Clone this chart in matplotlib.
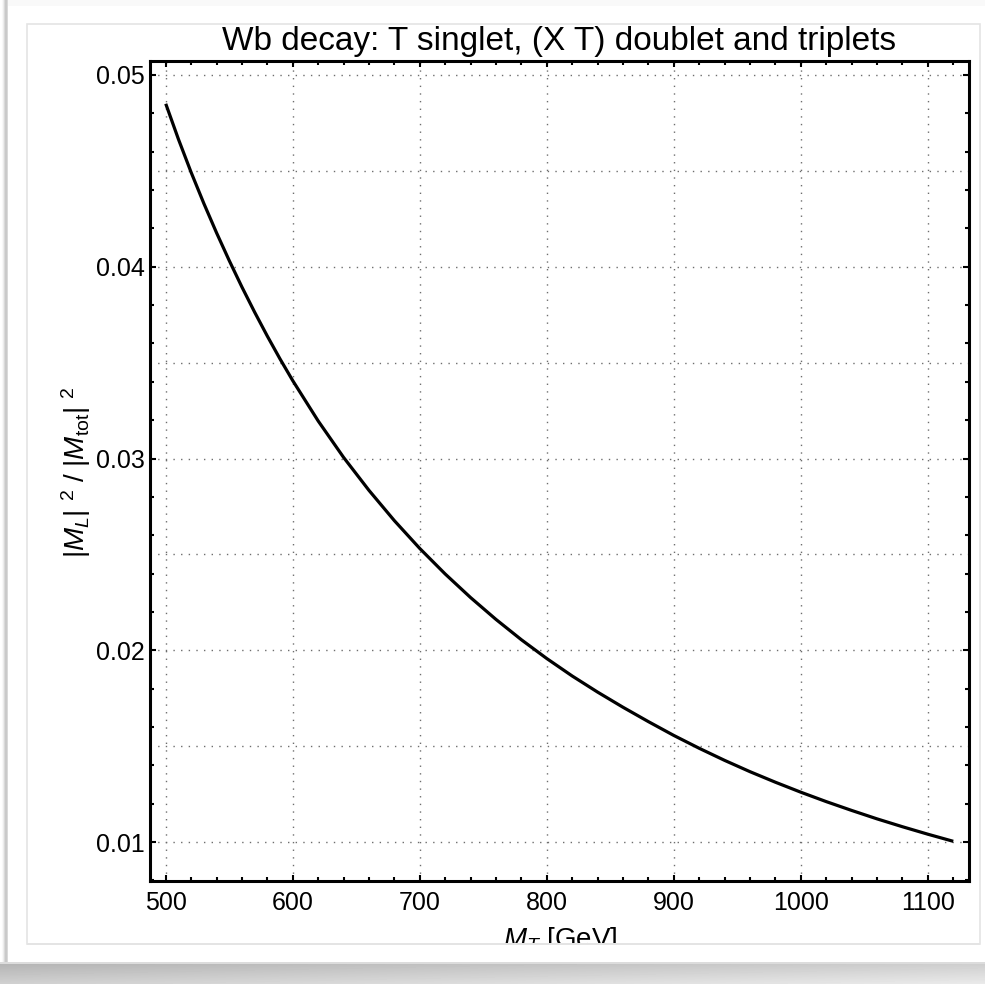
import numpy as np
import matplotlib
matplotlib.use("Agg")
import matplotlib.pyplot as plt
from matplotlib.patches import Rectangle
from matplotlib.ticker import MultipleLocator, FixedLocator

plt.rcParams['font.family'] = ['Liberation Sans', 'DejaVu Sans']
plt.rcParams['mathtext.fontset'] = 'custom'
plt.rcParams['mathtext.rm'] = 'Liberation Sans'
plt.rcParams['mathtext.it'] = 'Liberation Sans:italic'
plt.rcParams['mathtext.bf'] = 'Liberation Sans:bold'

# ---- data ----
mass_T = [500, 510, 520, 530, 540, 550, 560, 570, 580, 590, 600,
          620, 640, 660, 680, 700, 720, 740, 760, 780, 800,
          820, 840, 860, 880, 900, 920, 940, 960, 980, 1000,
          1020, 1040, 1060, 1080, 1100, 1120]
ratio = [0.04850, 0.04665, 0.04492, 0.04330, 0.04177, 0.04032, 0.03894,
         0.03763, 0.03638, 0.03519, 0.03406,
         0.03196, 0.03006, 0.02834, 0.02676, 0.02531, 0.02398, 0.02275,
         0.02161, 0.02055, 0.01957,
         0.01866, 0.01782, 0.01703, 0.01628, 0.01556, 0.01489, 0.01426,
         0.01367, 0.01312, 0.01260,
         0.01211, 0.01165, 0.01121, 0.01080, 0.01041, 0.01004]
x_ticks = [500, 600, 700, 800, 900, 1000, 1100]
y_ticks = [0.01, 0.02, 0.03, 0.04, 0.05]
y_ticklabels = ["0.01", "0.02", "0.03", "0.04", "0.05"]
y_grid = [0.01, 0.015, 0.02, 0.025, 0.03, 0.035, 0.04, 0.045, 0.05]
title = "Wb decay: T singlet, (X T) doublet and triplets"
xlabel = r"$M_T$ [GeV]"
ylabel = r"|$M_L$| $^2$ / |$M_{\rm tot}$| $^2$"

W, H = 985, 984
fig = plt.figure(figsize=(W / 100, H / 100), dpi=100)
fig.patch.set_facecolor("white")

# ---- background card with drop shadow (pixel coords) ----
bg = fig.add_axes([0, 0, 1, 1], zorder=-10)
bg.set_xlim(0, W)
bg.set_ylim(H, 0)
bg.axis("off")
img = np.ones((H, W))
img[:6, :] = 0.975
for c in range(0, 8):
    img[:, c] = 1.0 - 0.22 * np.exp(-((c - 5.5) ** 2) / 6.0)
for r in range(962, H):
    t = (r - 962) / (H - 962)
    img[r, :] = 0.70 + 0.12 * t
img[962:, :] += np.linspace(0, 0.10, W)[None, :]
img[962:964, :] = 0.86
bg.imshow(img, cmap="gray", vmin=0, vmax=1, extent=(0, W, H, 0),
          interpolation="bilinear", aspect="auto")
bg.add_patch(Rectangle((8, 6), W - 8, 956, facecolor="white",
                       edgecolor="none"))
bg.add_patch(Rectangle((27, 24), 953, 920, facecolor="white",
                       edgecolor="#e4e4e4", linewidth=1.2))

# ---- main axes ----
L, R, T, B = 150, 969, 61, 881
ax = fig.add_axes([L / W, (H - B) / H, (R - L) / W, (B - T) / H])
ax.set_facecolor("white")

ax.plot(mass_T, ratio, color="black", linewidth=2.3, solid_capstyle="butt",
        solid_joinstyle="round", zorder=5)

ax.set_xlim(487.6, 1132.4)
ax.set_ylim(0.00797, 0.05073)

grid_kw = dict(color="#6e6e6e", linewidth=1.0, linestyle=(0, (1.0, 4.5)),
               zorder=1)
for xv in x_ticks:
    ax.axvline(xv, **grid_kw)
for yv in y_grid:
    ax.axhline(yv, **grid_kw)

ax.xaxis.set_major_locator(FixedLocator(x_ticks))
ax.xaxis.set_minor_locator(MultipleLocator(20))
ax.yaxis.set_major_locator(FixedLocator(y_ticks))
ax.set_yticklabels(y_ticklabels)
ax.yaxis.set_minor_locator(MultipleLocator(0.002))

ax.tick_params(which="both", direction="in", top=True, right=True,
               color="black", width=1.5)
ax.tick_params(which="major", length=4.5, labelsize=18)
ax.tick_params(which="minor", length=2.6)
ax.tick_params(axis="y", which="major", pad=3.5)
ax.tick_params(axis="x", which="major", pad=7)
for s in ax.spines.values():
    s.set_linewidth(2.2)
    s.set_color("black")

ax.set_title(title, fontsize=24, pad=8)

fig.text(76 / W, (H - 472) / H, ylabel, rotation=90, ha="center",
         va="center", fontsize=20)
fig.text(560 / W, (H - 947) / H, xlabel, ha="center", va="baseline",
         fontsize=20, zorder=3)

# clip the bottom of the x label like the reference frame does
fig.add_artist(Rectangle((8 / W, (H - 962) / H), (W - 8) / W, 17.5 / H,
                         transform=fig.transFigure, facecolor="white",
                         edgecolor="none", zorder=5))
fig.add_artist(Rectangle((27 / W, (H - 944.5) / H), 953 / W, 0.0012,
                         transform=fig.transFigure, facecolor="#e4e4e4",
                         edgecolor="none", zorder=6))

fig.savefig("out.png", dpi=100, facecolor=fig.get_facecolor())
